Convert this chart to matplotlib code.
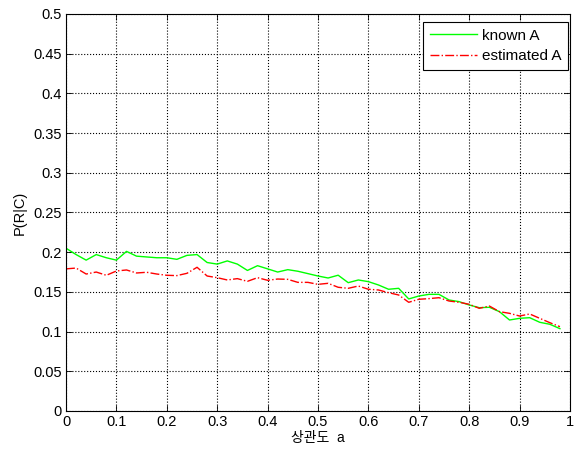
import numpy as np
import matplotlib
matplotlib.use('Agg')
from matplotlib import pyplot as plt

# correlation a, sampled every 0.02
a = np.arange(50) * 0.02

known_A = [0.205, 0.197, 0.190, 0.197, 0.193, 0.190, 0.201, 0.195, 0.194, 0.193,
           0.193, 0.191, 0.196, 0.197, 0.187, 0.185, 0.189, 0.185, 0.177, 0.183,
           0.179, 0.175, 0.178, 0.176, 0.173, 0.170, 0.1675, 0.171, 0.1616, 0.165,
           0.1629, 0.1587, 0.1533, 0.1545, 0.1411, 0.1448, 0.1469, 0.1469, 0.1398, 0.1377,
           0.1335, 0.1301, 0.1306, 0.1251, 0.1146, 0.1167, 0.1175, 0.1117, 0.1092, 0.1037]

estimated_A = [0.179, 0.180, 0.1725, 0.175, 0.1709, 0.1763, 0.1776, 0.1738, 0.1747, 0.1725,
               0.1709, 0.1705, 0.1734, 0.181, 0.170, 0.1679, 0.165, 0.1667, 0.1633, 0.1679,
               0.1646, 0.1662, 0.1658, 0.162, 0.162, 0.1595, 0.1608, 0.1558, 0.1545, 0.1574,
               0.1533, 0.1524, 0.149, 0.1461, 0.1369, 0.1407, 0.1415, 0.1427, 0.1385, 0.1369,
               0.1344, 0.1293, 0.1322, 0.1251, 0.123, 0.1196, 0.1222, 0.1167, 0.1112, 0.1062]

x_ticks = np.arange(0, 1.01, 0.1)
x_labels = ['0', '0.1', '0.2', '0.3', '0.4', '0.5', '0.6', '0.7', '0.8', '0.9', '1']
y_ticks = np.arange(0, 0.501, 0.05)
y_labels = ['0', '0.05', '0.1', '0.15', '0.2', '0.25', '0.3', '0.35', '0.4', '0.45', '0.5']

plt.rcParams['font.family'] = ['Liberation Sans', 'Noto Sans CJK KR', 'DejaVu Sans']
plt.rcParams['font.size'] = 10.5

fig = plt.figure(figsize=(5.75, 4.5), dpi=100)
ax = fig.add_axes([0.1148, 0.0867, 0.8765, 0.8822])

ax.plot(a, known_A, '-', color='#00ff00', lw=1.0, label='known A')
ax.plot(a, estimated_A, '-.', color='#ff0000', lw=1.0, label='estimated A')

ax.set_xlim(0, 1)
ax.set_ylim(0, 0.5)
ax.set_xticks(x_ticks)
ax.set_xticklabels(x_labels)
ax.set_yticks(y_ticks)
ax.set_yticklabels(y_labels)
ax.tick_params(direction='in', length=4, width=0.6, top=True, right=True,
               colors='black', pad=3)
ax.grid(True, linestyle=':', color='black', lw=0.8)
for s in ax.spines.values():
    s.set_linewidth(0.8)

ax.set_xlabel('상관도  a', labelpad=1, fontsize=10)
ax.set_ylabel('P(R|C)', labelpad=5)

leg = ax.legend(loc='upper right', bbox_to_anchor=(0.996, 0.98), borderaxespad=0,
                fancybox=False, framealpha=1, edgecolor='black', fontsize=11,
                borderpad=0.45, handlelength=3.1, handletextpad=0.3, labelspacing=0.4)
leg.get_frame().set_linewidth(0.8)

fig.savefig('out.png', dpi=100, facecolor='white')
